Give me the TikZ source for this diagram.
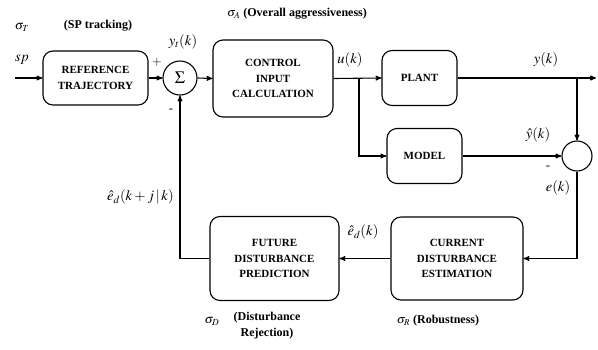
\documentclass[tikz,border=0pt]{standalone}
\usepackage{mathptmx}
\usepackage{fontspec}
\setmainfont{Liberation Serif}
\usetikzlibrary{arrows}
\usetikzlibrary{positioning}

\tikzset{
    block/.style={draw, line width=1.1pt, rounded corners=10pt, align=center,
        font=\bfseries\fontsize{11}{15.5}\selectfont, inner sep=0pt},
    sumnode/.style={draw, line width=1.1pt, circle, inner sep=0pt},
    sig/.style={->, >=stealth', line width=1.1pt},
    lbl/.style={font=\fontsize{14.5}{16}\selectfont, inner sep=0pt},
    smalllbl/.style={font=\fontsize{12.5}{14}\selectfont, inner sep=0pt},
    tune/.style={font=\bfseries\fontsize{12}{16}\selectfont, inner sep=0pt, align=center}
}

\begin{document}
\begin{tikzpicture}[x=1pt, y=-1pt]
        \useasboundingbox (0, 0) rectangle (598, 349);

        \node[block, minimum width=105pt, minimum height=54pt] (ref) at (95.5, 78) {REFERENCE\\TRAJECTORY};
        \node[sumnode, minimum size=34pt] (sum) at (180, 78) {\LARGE$\Sigma$};
        \node[block, minimum width=120pt, minimum height=77pt] (ctrl) at (273, 78.5) {CONTROL\\INPUT\\CALCULATION};
        \node[block, minimum width=75pt, minimum height=55pt] (plant) at (419.5, 78) {PLANT};
        \node[block, minimum width=75pt, minimum height=55pt] (model) at (424.5, 156) {MODEL};
        \node[sumnode, minimum size=30pt] (err) at (577, 156) {};
        \node[block, minimum width=132pt, minimum height=83pt] (cur) at (457, 258.5) {CURRENT\\DISTURBANCE\\ESTIMATION};
        \node[block, minimum width=129pt, minimum height=84pt] (fut) at (274.5, 258.5) {FUTURE\\DISTURBANCE\\PREDICTION};

        \coordinate (spin) at (15, 78);
        \coordinate (ubr) at (359, 78);
        \coordinate (ybr) at (577, 78);
        \coordinate (yout) at (596, 78);

        \draw[sig] (spin) -- (ref.west);
        \draw[sig] (ref.east) -- (sum.west);
        \draw[sig] (sum.east) -- (ctrl.west);
        \draw[sig] (ctrl.east) -- (plant.west);
        \draw[sig] (ubr) |- (model.west);
        \draw[sig] (plant.east) -- (yout);
        \draw[sig] (ybr) -- (err.north);
        \draw[sig] (model.east) -- (err.west);
        \draw[sig] (err.south) |- (cur.east);
        \draw[sig] (cur.west) -- (fut.east);
        \draw[sig] (fut.west) -| (sum.south);

        \node[lbl] (sp) at (22, 60) {$sp$};
        \node[lbl] (yt) at (183, 42) {$y_t(k)$};
        \node[smalllbl] (plus) at (157, 62) {$+$};
        \node[smalllbl] (minus1) at (171, 111) {-};
        \node[lbl] (u) at (350, 60) {$u(k)$};
        \node[lbl] (y) at (546, 60) {$y(k)$};
        \node[lbl] (yhat) at (538, 135) {$\hat{y}(k)$};
        \node[smalllbl] (minus2) at (548, 168) {-};
        \node[lbl] (e) at (558, 188) {$e(k)$};
        \node[lbl] (edk) at (363, 232) {$\hat{e}_d(k)$};
        \node[lbl, anchor=east] (edkj) at (174, 197) {$\hat{e}_d(k+j\,|\,k)$};

        \node[smalllbl] (sigT) at (22, 27) {$\sigma_T$};
        \node[tune] (sigTtxt) at (98, 26) {(SP tracking)};
        \node[tune] (sigA) at (297, 14) {$\sigma_A$ (Overall aggressiveness)};
        \node[smalllbl] (sigD) at (212, 321) {$\sigma_D$};
        \node[tune] (sigDtxt) at (267, 326) {(Disturbance\\Rejection)};
        \node[tune] (sigR) at (438, 321) {$\sigma_R$ (Robustness)};
\end{tikzpicture}
\end{document}
